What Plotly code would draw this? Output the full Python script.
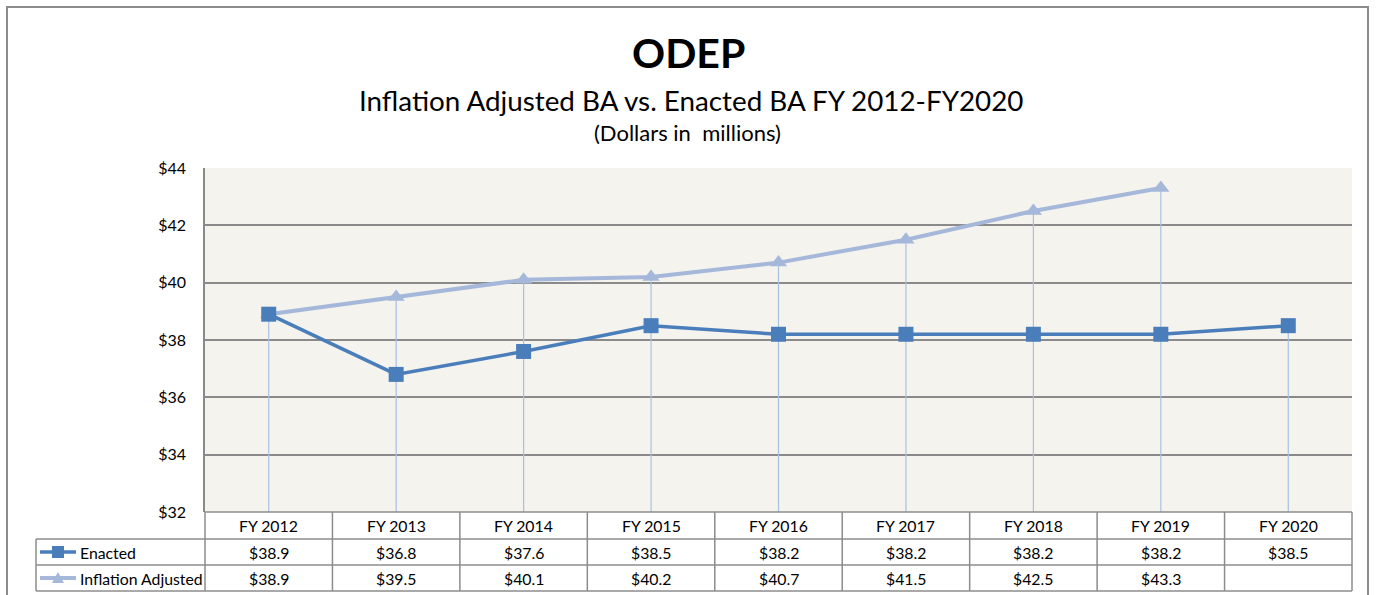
import plotly.graph_objects as go

categories = ["FY 2012", "FY 2013", "FY 2014", "FY 2015", "FY 2016",
              "FY 2017", "FY 2018", "FY 2019", "FY 2020"]
enacted = [38.9, 36.8, 37.6, 38.5, 38.2, 38.2, 38.2, 38.2, 38.5]
inflation_adjusted = [38.9, 39.5, 40.1, 40.2, 40.7, 41.5, 42.5, 43.3, None]
y_ticks = [32, 34, 36, 38, 40, 42, 44]
series_names = ["Enacted", "Inflation Adjusted"]

W, H = 1376, 595
FONT = "Lato, 'Open Sans', sans-serif"
C_ENACT = "#4A7EBB"
C_INFL = "#A5B8DA"
C_DROP = "#A9C1DF"
C_GRID = "#8A8A8A"
C_TABLE = "#8C8C8C"
TFS = 15.8

PL, PR, PT, PB = 205, 1352, 168, 512
ROW_Y = [512, 539, 565, 591]
LEG_L = 36


def px(x):
    return x / W


def py(y):
    return 1 - y / H


fig = go.Figure()

# drop lines from highest point of each category to axis floor
y_floor = y_ticks[0]
dx, dy = [], []
for c, a, b in zip(categories, enacted, inflation_adjusted):
    vals = [v for v in (a, b) if v is not None]
    dx += [c, c, None]
    dy += [max(vals), y_floor, None]
fig.add_trace(go.Scatter(x=dx, y=dy, mode="lines", line=dict(color=C_DROP, width=1.2),
                         hoverinfo="skip", showlegend=False, cliponaxis=False))

fig.add_trace(go.Scatter(x=categories, y=inflation_adjusted, mode="lines+markers",
                         name=series_names[1],
                         line=dict(color=C_INFL, width=4),
                         marker=dict(symbol="triangle-up", size=15, color=C_INFL),
                         showlegend=False, cliponaxis=False))
fig.add_trace(go.Scatter(x=categories, y=enacted, mode="lines+markers",
                         name=series_names[0],
                         line=dict(color=C_ENACT, width=3.5),
                         marker=dict(symbol="square", size=15, color=C_ENACT),
                         showlegend=False, cliponaxis=False))

shapes = []
# legend keys inside table
for i, (name, col, sym, lw) in enumerate([(series_names[0], C_ENACT, "square", 3.5),
                                          (series_names[1], C_INFL, "triangle", 4)]):
    yc = (ROW_Y[i + 1] + ROW_Y[i + 2]) / 2
    shapes.append(dict(type="line", xref="paper", yref="paper", x0=px(40), x1=px(76),
                       y0=py(yc), y1=py(yc), line=dict(color=col, width=lw)))
    cx = 58
    if sym == "square":
        path = (f"M {px(cx-6)} {py(yc-6)} L {px(cx+6)} {py(yc-6)} L {px(cx+6)} {py(yc+6)} "
                f"L {px(cx-6)} {py(yc+6)} Z")
    else:
        path = (f"M {px(cx-6)} {py(yc+5)} L {px(cx+6)} {py(yc+5)} L {px(cx)} {py(yc-6)} Z")
    shapes.append(dict(type="path", xref="paper", yref="paper", path=path,
                       fillcolor=col, line=dict(color=col, width=0)))
    fig.add_annotation(x=px(78), y=py(yc), xref="paper", yref="paper", text=name,
                       showarrow=False, xanchor="left", yanchor="middle",
                       font=dict(family=FONT, size=TFS, color="#000"))

# outer border
shapes.append(dict(type="rect", xref="paper", yref="paper", x0=px(7), x1=px(1368),
                   y0=py(640), y1=py(7), line=dict(color="#8C8C8C", width=2)))
# table horizontal lines
shapes.append(dict(type="line", xref="paper", yref="paper", x0=px(PL), x1=px(PR),
                   y0=py(ROW_Y[0]), y1=py(ROW_Y[0]), line=dict(color=C_TABLE, width=1.5)))
for ry in ROW_Y[1:]:
    shapes.append(dict(type="line", xref="paper", yref="paper", x0=px(LEG_L), x1=px(PR),
                       y0=py(ry), y1=py(ry), line=dict(color=C_TABLE, width=1.5)))
# table vertical lines
shapes.append(dict(type="line", xref="paper", yref="paper", x0=px(LEG_L), x1=px(LEG_L),
                   y0=py(ROW_Y[1]), y1=py(ROW_Y[3]), line=dict(color=C_TABLE, width=1.5)))
n = len(categories)
for k in range(n + 1):
    xx = PL + k * (PR - PL) / n
    shapes.append(dict(type="line", xref="paper", yref="paper", x0=px(xx), x1=px(xx),
                       y0=py(ROW_Y[0]), y1=py(ROW_Y[3]), line=dict(color=C_TABLE, width=1.5)))

# table text
for c, a, b in zip(categories, enacted, inflation_adjusted):
    fig.add_annotation(x=c, y=py((ROW_Y[0] + ROW_Y[1]) / 2), xref="x", yref="paper", text=c,
                       showarrow=False, yanchor="middle", xanchor="center",
                       font=dict(family=FONT, size=TFS, color="#000"))
    fig.add_annotation(x=c, y=py((ROW_Y[1] + ROW_Y[2]) / 2), xref="x", yref="paper",
                       text=f"${a:.1f}", showarrow=False, yanchor="middle", xanchor="center",
                       font=dict(family=FONT, size=TFS, color="#000"))
    if b is not None:
        fig.add_annotation(x=c, y=py((ROW_Y[2] + ROW_Y[3]) / 2), xref="x", yref="paper",
                           text=f"${b:.1f}", showarrow=False, yanchor="middle",
                           xanchor="center",
                           font=dict(family=FONT, size=TFS, color="#000"))

# titles
fig.add_annotation(x=px(688), y=py(52), xref="paper", yref="paper", text="<b>ODEP</b>",
                   showarrow=False, yanchor="middle", xanchor="center",
                   font=dict(family=FONT, size=41, color="#000"))
fig.add_annotation(x=px(691), y=py(100), xref="paper", yref="paper",
                   text="Inflation Adjusted BA vs. Enacted BA FY 2012-FY2020",
                   showarrow=False, yanchor="middle", xanchor="center",
                   font=dict(family=FONT, size=27.8, color="#000"))
fig.add_annotation(x=px(687), y=py(132), xref="paper", yref="paper",
                   text="(Dollars in  millions)",
                   showarrow=False, yanchor="middle", xanchor="center",
                   font=dict(family=FONT, size=22, color="#000"))

fig.update_layout(
    width=W, height=H,
    margin=dict(l=0, r=0, t=0, b=0, autoexpand=False),
    paper_bgcolor="white",
    plot_bgcolor="#F4F3EE",
    shapes=shapes,
    xaxis=dict(type="category", categoryorder="array", categoryarray=categories,
               range=[-0.5, n - 0.5], domain=[px(PL), px(PR)], showticklabels=False,
               showgrid=False, zeroline=False, showline=False, ticks="",
               automargin=False),
    yaxis=dict(range=[y_ticks[0], y_ticks[-1]], domain=[py(PB), py(PT)],
               tickvals=y_ticks, ticktext=[f"${v}" for v in y_ticks],
               showgrid=True, gridcolor=C_GRID, gridwidth=1.5, zeroline=False,
               showline=True, linecolor=C_GRID, linewidth=1.5, mirror=False,
               ticks="", ticklabelstandoff=14, automargin=False,
               tickfont=dict(family=FONT, size=16, color="#000")),
)

fig.write_html("out.html", config={"displayModeBar": False},
               post_script="document.body.style.margin='0';document.body.style.overflow='hidden';")
